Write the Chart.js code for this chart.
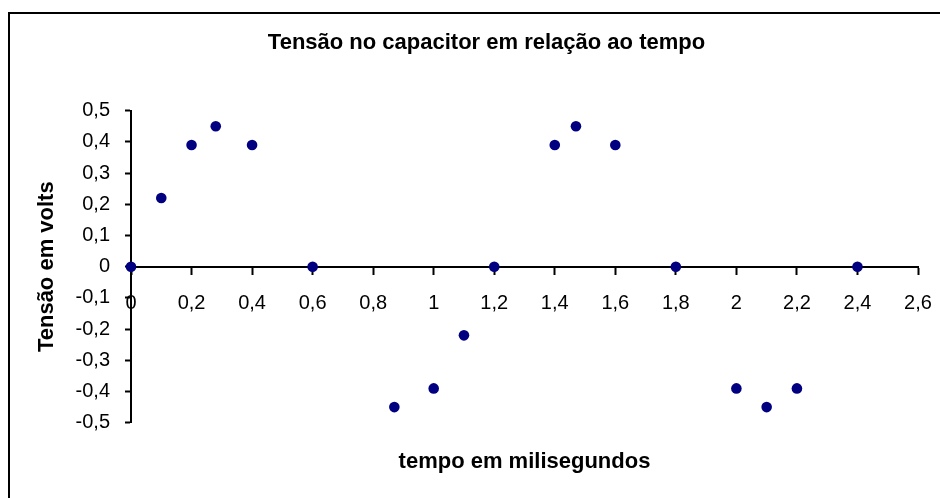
<!DOCTYPE html>
<html>
<head>
<meta charset="utf-8">
<title>Tensão no capacitor em relação ao tempo</title>
<script src="https://cdn.jsdelivr.net/npm/chart.js@4/dist/chart.umd.min.js"></script>
<style>
  body { margin: 0; background: #fff; }
  canvas { display: block; }
</style>
</head>
<body>
<canvas id="tensaoChart" width="940" height="498"></canvas>
<script>
// valores (tempo em ms, tensao em V)
const tempo = [0, 0.1, 0.2, 0.28, 0.4, 0.6, 0.87, 1.0, 1.1, 1.2, 1.4, 1.47, 1.6, 1.8, 2.0, 2.1, 2.2, 2.4];
const tensao = [0, 0.22, 0.39, 0.45, 0.39, 0, -0.45, -0.39, -0.22, 0, 0.39, 0.45, 0.39, 0, -0.39, -0.45, -0.39, 0];
const xTickLabels = ['0', '0,2', '0,4', '0,6', '0,8', '1', '1,2', '1,4', '1,6', '1,8', '2', '2,2', '2,4', '2,6'];
const yTickLabels = ['-0,5', '-0,4', '-0,3', '-0,2', '-0,1', '0', '0,1', '0,2', '0,3', '0,4', '0,5'];

Chart.defaults.font.family = "'Liberation Sans', Arial, sans-serif";
Chart.defaults.color = '#000';

// moldura do grafico (so aparecem os lados esquerdo e superior)
const frame = {
  id: 'frame',
  beforeDraw: (chart) => {
    const ctx = chart.ctx;
    ctx.save();
    ctx.strokeStyle = '#000';
    ctx.lineWidth = 2;
    ctx.strokeRect(9, 13, 1000, 1000);
    ctx.restore();
  }
};

const tensaoChart = () => {
  const ctx = document.getElementById('tensaoChart').getContext('2d');
  const points = tempo.map((t, i) => ({ x: t, y: tensao[i] }));
  new Chart(ctx, {
    type: 'scatter',
    data: {
      datasets: [{
        label: 'Tensão',
        data: points,
        backgroundColor: '#000080',
        borderColor: '#000080',
        borderWidth: 0,
        pointRadius: 5.3,
        clip: false
      }]
    },
    options: {
      responsive: false,
      animation: false,
      layout: { padding: { left: 55, right: 22, top: 0, bottom: 0 } },
      plugins: {
        legend: { display: false },
        tooltip: { enabled: false },
        title: {
          display: true,
          text: 'Tensão no capacitor em relação ao tempo',
          font: { size: 22, weight: 'bold' },
          padding: { top: 30, bottom: 54.3 }
        }
      },
      scales: {
        x: {
          type: 'linear',
          position: { y: 0 },
          min: 0,
          max: 2.6,
          grid: { drawOnChartArea: false, drawTicks: true, tickLength: 7, tickColor: '#000', tickWidth: 2 },
          border: { display: true, color: '#000', width: 2 },
          ticks: {
            stepSize: 0.2,
            padding: 18,
            font: { size: 20 },
            callback: (value, index) => xTickLabels[index]
          },
          afterFit: (scale) => {
            scale.paddingLeft = 0;
            scale.paddingRight = 0;
          }
        },
        x2: {
          type: 'linear',
          position: 'bottom',
          min: 0,
          max: 2.6,
          grid: { display: false },
          border: { display: false },
          ticks: { display: false },
          title: {
            display: true,
            text: 'tempo em milisegundos',
            font: { size: 22, weight: 'bold' },
            padding: { top: 17.8, bottom: 23.1 }
          }
        },
        y: {
          type: 'linear',
          position: 'left',
          min: -0.5,
          max: 0.5,
          grid: { drawOnChartArea: false, drawTicks: true, tickLength: 6, tickColor: '#000', tickWidth: 2 },
          border: { display: true, color: '#000', width: 2 },
          ticks: {
            stepSize: 0.1,
            padding: 15,
            font: { size: 20 },
            callback: (value, index) => yTickLabels[index]
          },
          title: {
            display: true,
            text: 'Tensão em volts',
            font: { size: 22, weight: 'bold' },
            padding: { top: -21, bottom: 0 }
          },
          afterFit: (scale) => {
            scale.width = 76;
            scale.paddingTop = 0;
            scale.paddingBottom = 0;
          }
        }
      }
    },
    plugins: [frame]
  });
}

tensaoChart();
</script>
</body>
</html>
